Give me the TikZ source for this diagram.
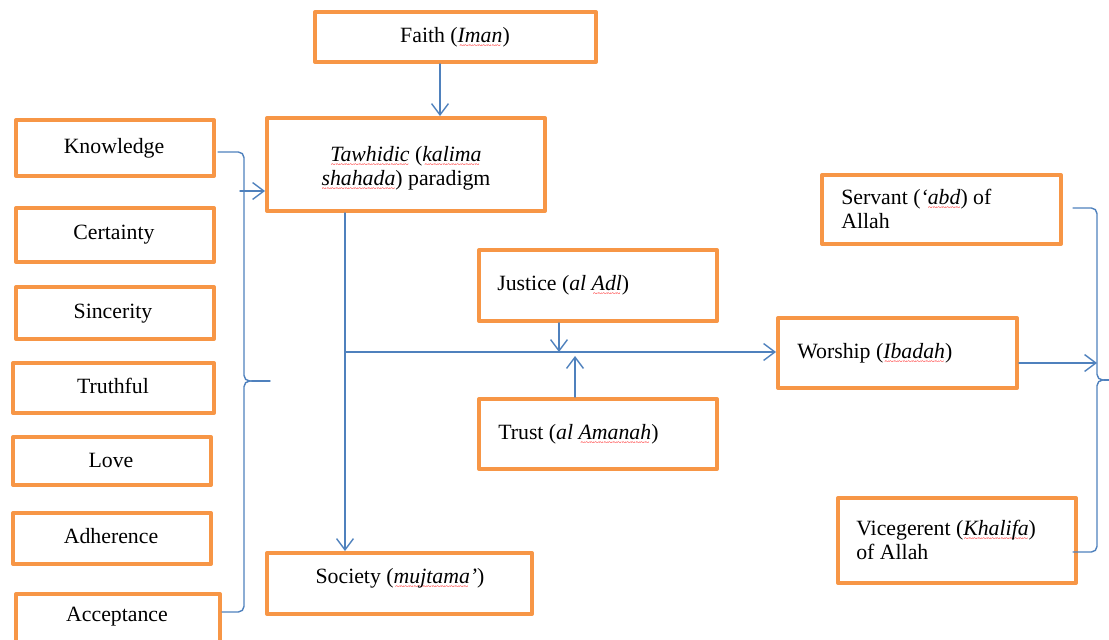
\documentclass[tikz,border=0pt]{standalone}
\usepackage{fontspec}
\setmainfont{Liberation Serif}
\usetikzlibrary{arrows.meta}
\definecolor{boxorange}{HTML}{F79646}
\definecolor{lineblue}{HTML}{4F81BD}
\newdimen\px \px=0.025cm
\newcommand\redwave[1]{\setbox0\hbox{#1}\rlap{\raisebox{-4.5pt}[0pt][0pt]{\color{red}\hbox to\wd0{\fontsize{6}{6}\selectfont\upshape\cleaders\hbox{\char"7E}\hfill}}}\box0}
\begin{document}
\begin{tikzpicture}[x=0.025cm,y=-0.025cm,line join=round,line cap=round,
	>={Straight Barb[length=8pt,width=12pt]},
	box/.style={draw=boxorange,line width=2.8pt,inner sep=0},
	lbl/.style={inner sep=0,font=\fontsize{15.5}{17}\selectfont},
	link/.style={draw=lineblue,line width=1pt}]
	
	\useasboundingbox (0,0) rectangle (1109,639);
	
	% boxes
	\node[box,minimum width=281\px,minimum height=50\px] (faith) at (455.5,37) {};
	\node[box,minimum width=278\px,minimum height=93\px] (tawhid) at (406,164.5) {};
	\node[box,minimum width=198\px,minimum height=56\px] (know) at (115,148) {};
	\node[box,minimum width=198\px,minimum height=54\px] (cert) at (115,235) {};
	\node[box,minimum width=198\px,minimum height=52\px] (sinc) at (115,313) {};
	\node[box,minimum width=201\px,minimum height=50\px] (truth) at (113.5,388) {};
	\node[box,minimum width=198\px,minimum height=48\px] (love) at (112,461) {};
	\node[box,minimum width=198\px,minimum height=51\px] (adher) at (112,538.5) {};
	\node[box,minimum width=204\px,minimum height=56\px] (accept) at (118,622) {};
	\node[box,minimum width=238\px,minimum height=71\px] (justice) at (598,285.5) {};
	\node[box,minimum width=238\px,minimum height=70\px] (trust) at (598,434) {};
	\node[box,minimum width=239\px,minimum height=70\px] (worship) at (897.5,353) {};
	\node[box,minimum width=239\px,minimum height=69\px] (servant) at (941.5,209.5) {};
	\node[box,minimum width=238\px,minimum height=85\px] (viceg) at (957,540.5) {};
	\node[box,minimum width=265\px,minimum height=61\px] (society) at (399.5,583.5) {};
	
	% texts
	\node[lbl] (faithT) at (455,37) {Faith (\textit{\redwave{Iman}})};
	\node[lbl,align=center] (tawhidT) at (406,168) {\textit{\redwave{Tawhidic}} (\textit{\redwave{kalima}}\\\textit{\redwave{shahada}}) paradigm};
	\node[lbl] (knowT) at (114,148) {Knowledge};
	\node[lbl] (certT) at (114,235) {Certainty};
	\node[lbl] (sincT) at (113,314) {Sincerity};
	\node[lbl] (truthT) at (113,386) {Truthful};
	\node[lbl] (loveT) at (111,460) {Love};
	\node[lbl] (adherT) at (111,536) {Adherence};
	\node[lbl] (acceptT) at (117,617) {Acceptance};
	\node[lbl,anchor=west] (justiceT) at (497,285) {Justice (\textit{al \redwave{Adl}})};
	\node[lbl,anchor=west] (trustT) at (498,434) {Trust (\textit{al \redwave{Amanah}})};
	\node[lbl,anchor=west] (worshipT) at (797,353) {Worship (\textit{\redwave{Ibadah}})};
	\node[lbl,anchor=west,align=left] (servantT) at (841,209) {Servant (\textit{‘\redwave{abd}}) of\\Allah};
	\node[lbl,anchor=west,align=left] (vicegT) at (856,540) {Vicegerent (\textit{\redwave{Khalifa}})\\of Allah};
	\node[lbl] (societyT) at (400,578) {Society (\textit{\redwave{mujtama}’})};
	
	% left brace
	\draw[link,rounded corners=4pt] (218,152) -- (244,152) -- (244,381) -- (254,381);
	\draw[link,rounded corners=4pt] (222,612) -- (244,612) -- (244,381) -- (254,381);
	\draw[link] (252,381) -- (270,381);
	% right brace
	\draw[link,rounded corners=4pt] (1073,208) -- (1097,208) -- (1097,380) -- (1106,380);
	\draw[link,rounded corners=4pt] (1073,552) -- (1097,552) -- (1097,380) -- (1106,380);
	\draw[link] (1104,380) -- (1112,380);
	
	% arrows
	\coordinate (fa) at (440,0);
	\draw[link,->] (faith.south -| fa) -- (tawhid.north -| fa);
	\coordinate (bk) at (240,191);
	\draw[link,->] (bk) -- (bk -| tawhid.west);
	\coordinate (ts) at (345,0);
	\draw[link,->] (tawhid.south -| ts) -- (society.north -| ts);
	\coordinate (j) at (345,352);
	\draw[link,->] (j) -- (j -| worship.west);
	\coordinate (ja) at (559,0);
	\draw[link,->] (justice.south -| ja) -- (ja |- j);
	\coordinate (tr) at (575,356);
	\draw[link,->] (trust.north -| tr) -- (tr);
	\coordinate (rb) at (1097,363);
	\draw[link,->] (rb -| worship.east) -- (rb);
\end{tikzpicture}
\end{document}
